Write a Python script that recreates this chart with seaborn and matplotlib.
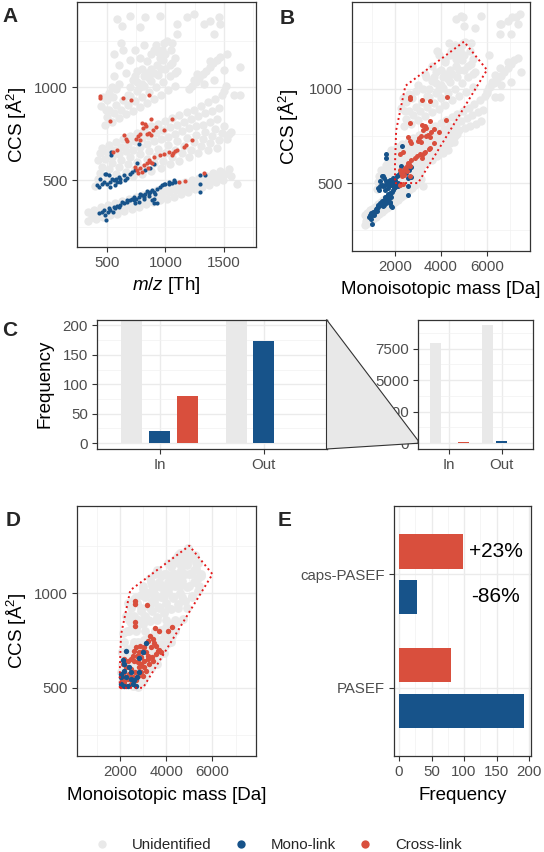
import matplotlib
matplotlib.use('Agg')
import matplotlib.pyplot as plt
from matplotlib.lines import Line2D
from matplotlib.patches import Polygon
from matplotlib.path import Path
from matplotlib.ticker import MultipleLocator
import pandas as pd
import seaborn as sns

PROTON = 1.007276

# ---------------------------------------------------------
# DATA
# ---------------------------------------------------------
# unidentified precursors (m/z, CCS) grouped by charge state
grey_z2 = [(340, 280), (340, 330), (370, 300), (390, 340), (410, 290), (430, 320), (450, 355), (470, 300),
           (490, 335), (510, 365), (530, 310), (550, 345), (570, 375), (590, 320), (610, 355), (630, 390),
           (650, 335), (670, 365), (690, 400), (710, 345), (730, 378), (750, 410), (770, 355), (790, 390),
           (810, 420), (830, 370), (850, 400), (870, 432), (890, 380), (910, 412), (930, 445), (950, 392),
           (970, 425), (990, 455), (1010, 400), (1030, 435), (1050, 468), (1070, 412), (1090, 445), (1110, 478),
           (1130, 425), (1150, 458), (1170, 490), (1190, 438), (1210, 470), (1230, 500), (1250, 450), (1270, 482),
           (1290, 512), (1310, 462), (1330, 495), (1350, 525), (1370, 475), (1390, 505), (1410, 538), (1430, 490),
           (1450, 520), (1470, 552), (1490, 500), (1510, 535), (1540, 560), (1560, 520), (1611, 482)]
grey_z3 = [(400, 470), (420, 505), (440, 540), (460, 572), (480, 490), (500, 525), (520, 560), (540, 595),
           (560, 500), (580, 535), (600, 570), (620, 610), (640, 510), (660, 545), (680, 585), (700, 625),
           (720, 525), (740, 560), (760, 600), (780, 640), (800, 535), (820, 572), (840, 612), (860, 655),
           (880, 550), (900, 590), (920, 630), (940, 670), (960, 565), (980, 605), (1000, 645), (1020, 690),
           (1040, 585), (1060, 625), (1080, 665), (1100, 710), (1120, 605), (1140, 645), (1160, 685), (1180, 725),
           (1200, 625), (1220, 665), (1240, 705), (1260, 745), (1280, 645), (1300, 685), (1320, 720), (1340, 760),
           (1360, 660), (1380, 700), (1400, 740), (1420, 775), (1440, 675), (1460, 715), (1480, 752), (1500, 790),
           (1530, 720), (1560, 760), (1540, 751)]
grey_z4 = [(420, 610), (440, 645), (460, 675), (480, 615), (500, 650), (520, 690), (540, 625), (560, 665),
           (580, 705), (600, 640), (620, 680), (640, 720), (660, 655), (680, 695), (700, 740), (720, 665),
           (740, 710), (760, 755), (780, 680), (800, 725), (820, 770), (840, 695), (860, 740), (880, 790),
           (900, 710), (920, 755), (940, 805), (960, 720), (980, 770), (1000, 820), (1020, 735), (1040, 785),
           (1060, 835), (1080, 750), (1100, 800), (1120, 850), (1140, 765), (1160, 815), (1180, 865), (1200, 780),
           (1220, 830), (1240, 880), (1260, 790), (1280, 845), (1300, 900), (1320, 800), (1340, 860), (1360, 920),
           (1380, 815), (1400, 875), (1420, 940), (1440, 830), (1460, 890), (1480, 960), (1500, 980), (1520, 1010),
           (1526, 1181), (1640, 1109), (1583, 957), (1640, 957)]
grey_z5 = [(480, 800), (500, 840), (520, 880), (540, 815), (560, 860), (580, 905), (600, 835), (620, 880),
           (640, 930), (660, 855), (680, 905), (700, 955), (720, 875), (740, 925), (760, 980), (780, 895),
           (800, 950), (820, 1005), (840, 915), (860, 975), (880, 1035), (900, 940), (920, 1000), (940, 1065),
           (960, 960), (980, 1030), (1000, 1100), (1020, 985), (1040, 1060), (1060, 1130), (1080, 1010), (1100, 1090),
           (930, 1120), (950, 1160), (970, 1200), (990, 1240), (960, 1100), (1000, 1180), (940, 1190), (980, 1150),
           (900, 1080), (880, 1100), (860, 1050), (840, 1080), (820, 1060), (800, 1020), (780, 1000), (760, 1030),
           (1010, 1250), (920, 1230), (1050, 1200), (1080, 1160), (600, 1020), (660, 1080),
           (700, 1000), (720, 1040), (680, 960), (740, 1060), (760, 1090), (800, 1100), (840, 1140), (880, 1180),
           (900, 1200), (1040, 1120), (1080, 1080), (1060, 1240), (450, 900), (470, 950), (500, 930), (520, 970),
           (490, 880), (550, 950), (580, 990),
           (1200, 990), (1230, 1010), (1260, 1030), (1290, 1050), (1320, 1070), (1350, 1090), (1380, 1110),
           (1410, 1130), (1440, 1150), (1470, 1165), (1269, 1073), (1383, 1140), (1326, 1020), (1241, 1038),
           (1497, 1091), (1412, 1038), (1326, 1342), (1383, 1360), (1412, 1289), (1454, 1378), (1469, 1342)]
grey_z6 = [(560, 1060), (600, 1120), (640, 1200), (700, 1150), (540, 1000), (740, 1200), (780, 1160), (820, 1230),
           (827, 1378), (956, 1387), (1098, 1289), (1098, 1342), (1184, 1378), (1241, 1396)]
grey_z7 = [(560, 1180), (620, 1240), (699, 1387), (785, 1324)]
grey_z8 = [(585, 1369), (628, 1333)]

# mono-links (m/z, CCS) by charge state
mono_z2 = [(429, 321), (457, 330), (472, 342), (486, 312), (494, 285), (514, 348), (528, 339), (557, 353),
           (585, 360), (614, 366), (642, 375), (671, 384), (699, 392), (714, 401), (728, 407), (751, 396),
           (771, 410), (799, 419), (828, 428), (856, 432), (885, 446), (899, 437), (913, 428), (899, 401),
           (927, 375), (956, 464), (970, 473), (999, 478), (1027, 482), (1056, 486), (1084, 491), (1070, 500),
           (1027, 491), (870, 437), (813, 410), (728, 392), (671, 392), (600, 353), (551, 330), (506, 330),
           (571, 348), (628, 384), (785, 428), (842, 443), (927, 455), (984, 482), (1292, 527), (1292, 482),
           (1292, 437), (1340, 530), (885, 392), (905, 378), (856, 414), (742, 378), (771, 384), (813, 396)]
mono_z3 = [(534, 652), (534, 634), (756, 593), (771, 694), (486, 536), (514, 527), (443, 509), (429, 464),
           (415, 473), (457, 482), (472, 491), (500, 482), (528, 491), (557, 500), (580, 509), (600, 518),
           (614, 504), (642, 527), (671, 514), (699, 536), (714, 545), (742, 554), (528, 464), (571, 473),
           (543, 509), (585, 491), (899, 586), (870, 568), (828, 554), (494, 536), (614, 491), (657, 500)]

# cross-links (m/z, CCS) by charge state
cross_z2 = [(1113, 491), (1170, 496), (1326, 539)]
cross_z3 = [(742, 572), (756, 554), (785, 563), (813, 581), (842, 593), (856, 608), (885, 590), (848, 563),
            (799, 545), (762, 539), (865, 599), (899, 625), (956, 634), (990, 643), (1027, 652), (1064, 647),
            (1084, 658), (1056, 634), (1098, 665), (1155, 679), (1178, 688), (1227, 715)]
cross_z4 = [(799, 808), (822, 801), (808, 783), (836, 790), (922, 787), (893, 772), (856, 754), (876, 744),
            (842, 747), (785, 751), (765, 737), (751, 724), (779, 719), (984, 769), (642, 742), (665, 724),
            (671, 711), (585, 665), (551, 652), (876, 828), (1056, 832)]
cross_z5 = [(637, 941), (708, 934), (856, 959), (528, 821)]
cross_z6 = [(443, 955), (443, 945)]

# caps-PASEF isolation polygon (mass, CCS)
poly_mass = [2000, 3000, 6000, 5000, 2450, 2050, 2000]
poly_ccs = [500, 500, 1100, 1250, 1015, 780, 600]

# caps-PASEF run (mass, CCS)
caps_grey = [(2300, 560), (2700, 560), (3100, 560), (2150, 620), (2550, 620), (2950, 620), (3400, 620),
             (2300, 680), (2700, 680), (3100, 680), (3550, 680), (2200, 740), (2600, 740), (3000, 740),
             (3400, 740), (3850, 740), (2300, 800), (2700, 800), (3100, 800), (3500, 800), (3900, 800),
             (4250, 800), (2400, 860), (2800, 860), (3200, 860), (3600, 860), (4000, 860), (4400, 860),
             (2500, 920), (2900, 920), (3300, 920), (3700, 920), (4100, 920), (4500, 920), (4900, 920),
             (2700, 980), (3100, 980), (3500, 980), (3900, 980), (4300, 980), (4700, 980), (5100, 980),
             (3000, 1040), (3400, 1040), (3800, 1040), (4200, 1040), (4600, 1040), (5000, 1040), (5400, 1040),
             (3500, 1100), (3900, 1100), (4300, 1100), (4700, 1100), (5100, 1100), (5500, 1100),
             (4100, 1160), (4500, 1160), (4900, 1160), (5300, 1160), (4600, 1210), (5000, 1210),
             (2100, 530), (2500, 530), (2900, 530), (2100, 590), (2500, 590), (2900, 590), (2080, 690),
             (2450, 700), (2150, 790), (2250, 880), (3300, 1000), (2600, 960)]
caps_cross = [(2660, 958), (2660, 942), (3160, 938), (2660, 846), (2660, 828), (3520, 816), (3700, 798),
              (4240, 823), (4090, 802), (3319, 775), (3420, 758), (3205, 749), (3491, 735), (3348, 714),
              (3635, 696), (3563, 679), (3706, 700), (3778, 688), (3133, 688), (2989, 696), (2846, 688),
              (2703, 714), (2602, 696), (2746, 670), (2918, 661), (3061, 644), (3205, 653), (3377, 665),
              (3276, 626), (3061, 609), (2918, 626), (2774, 635), (2631, 644), (2488, 653), (2344, 644),
              (2201, 653), (2129, 626), (2272, 609), (2488, 600), (2660, 582), (2416, 574), (2201, 582),
              (2129, 565), (2344, 547), (2559, 556), (2774, 565), (2918, 582), (2703, 539), (2488, 521),
              (2272, 512), (2100, 539), (2057, 556), (2057, 512), (2201, 530), (2846, 609), (2989, 565),
              (3133, 591), (3420, 644), (3233, 670), (3563, 723), (3061, 714), (2889, 723), (2559, 670)]
caps_mono = [(2272, 696), (3133, 735), (2846, 658), (2129, 647), (2029, 556), (2057, 521), (2272, 556),
             (2201, 591), (2488, 582), (2631, 539), (2746, 556), (2846, 582), (2344, 512), (2559, 521),
             (2057, 574), (2703, 512), (2488, 547), (2201, 626), (2416, 609), (2201, 512), (2980, 690)]

# panel C: precursors inside / outside the polygon
regioes = ['In', 'Out']
tipos = ['Unidentified', 'Mono-link', 'Cross-link']
freq_in = [7970, 20, 80]
freq_out = [9350, 173, 1]

# panel E: identifications per method
metodos = ['caps-PASEF', 'PASEF']
freq_cross = [98, 80]
freq_mono = [27, 193]
variacao = ['+23%', '-86%']

GREY = '#E9E9E9'
BLUE = '#17538A'
RED = '#D94F3D'
ZOOM_RED = '#E41A1C'
CCS_LABEL = 'CCS [Å$^2$]'


def to_frame(groups):
    rows = []
    for z, pts in groups:
        for mz, ccs in pts:
            rows.append({'mz': mz, 'ccs': ccs, 'mass': (mz - PROTON) * z})
    return pd.DataFrame(rows)


def box(l, t, r, b):
    return [l / 544, 1 - b / 852, (r - l) / 544, (b - t) / 852]


def estilo(ax):
    ax.set_facecolor('white')
    for s in ax.spines.values():
        s.set_visible(True)
        s.set_color('#333333')
        s.set_linewidth(0.9)
    ax.set_axisbelow(True)
    ax.tick_params(which='major', length=3.5, width=0.8, color='#333333', labelsize=10.8,
                   labelcolor='#4D4D4D', pad=3, bottom=True, left=True)
    ax.tick_params(which='minor', length=0, bottom=False, left=False)


def grade(ax, axis='both', minor=True):
    ax.grid(True, which='major', axis=axis, color='#EBEBEB', lw=1.0)
    if minor:
        ax.grid(True, which='minor', axis=axis, color='#F1F1F1', lw=0.5)


def rotulo_x(ax, texto, y_px):
    ax.set_xlabel(texto, fontsize=13.5, va='center', color='black')
    pos = ax.get_position()
    ax.xaxis.set_label_coords(0.5, ((1 - y_px / 852) - pos.y0) / pos.height)


def rotulo_y(ax, texto, x_px):
    ax.set_ylabel(texto, fontsize=13.5, va='center', color='black')
    pos = ax.get_position()
    ax.yaxis.set_label_coords((x_px / 544 - pos.x0) / pos.width, 0.5)


def scatter_axes(ax, xlim, xmaj, xmin):
    ax.set_xlim(*xlim)
    ax.set_ylim(140, 1460)
    ax.xaxis.set_major_locator(MultipleLocator(xmaj))
    ax.xaxis.set_minor_locator(MultipleLocator(xmin))
    ax.yaxis.set_major_locator(MultipleLocator(500))
    ax.yaxis.set_minor_locator(MultipleLocator(250))
    grade(ax)
    estilo(ax)


def main():
    sns.set_theme(style='white')
    plt.rcParams['font.family'] = ['Liberation Sans', 'DejaVu Sans']
    plt.rcParams['mathtext.fontset'] = 'custom'
    plt.rcParams['mathtext.rm'] = 'Liberation Sans'
    plt.rcParams['mathtext.it'] = 'Liberation Sans:italic'

    grey_df = to_frame([(2, grey_z2), (3, grey_z3), (4, grey_z4), (5, grey_z5),
                        (6, grey_z6), (7, grey_z7), (8, grey_z8)])
    mono_df = to_frame([(2, mono_z2), (3, mono_z3)])
    cross_df = to_frame([(2, cross_z2), (3, cross_z3), (4, cross_z4), (5, cross_z5), (6, cross_z6)])

    poly = Path(list(zip(poly_mass, poly_ccs)))
    dentro = poly.contains_points(grey_df[['mass', 'ccs']].values)
    grey_caps = pd.concat([grey_df.loc[dentro, ['mass', 'ccs']],
                           pd.DataFrame(caps_grey, columns=['mass', 'ccs'])])
    caps_cross_df = pd.DataFrame(caps_cross, columns=['mass', 'ccs'])
    caps_mono_df = pd.DataFrame(caps_mono, columns=['mass', 'ccs'])

    fig = plt.figure(figsize=(5.44, 8.52), dpi=100)

    # ---------------------------------------------------------
    # A: m/z vs CCS
    # ---------------------------------------------------------
    ax_a = fig.add_axes(box(77, 2, 256, 247))
    sns.scatterplot(data=grey_df, x='mz', y='ccs', color=GREY, s=36, linewidth=0, ax=ax_a, legend=False)
    sns.scatterplot(data=mono_df, x='mz', y='ccs', color=BLUE, s=9, linewidth=0, ax=ax_a, legend=False)
    sns.scatterplot(data=cross_df, x='mz', y='ccs', color=RED, s=9, linewidth=0, ax=ax_a, legend=False)
    scatter_axes(ax_a, (244, 1774), 500, 250)
    rotulo_x(ax_a, r'$m/z$ [Th]', 285)
    rotulo_y(ax_a, CCS_LABEL, 17)

    # ---------------------------------------------------------
    # B: mass vs CCS with polygon
    # ---------------------------------------------------------
    ax_b = fig.add_axes(box(352, 2, 530, 251))
    sns.scatterplot(data=grey_df, x='mass', y='ccs', color=GREY, s=36, linewidth=0, ax=ax_b, legend=False)
    sns.scatterplot(data=mono_df, x='mass', y='ccs', color=BLUE, s=13, linewidth=0, ax=ax_b, legend=False)
    sns.scatterplot(data=cross_df, x='mass', y='ccs', color=RED, s=13, linewidth=0, ax=ax_b, legend=False)
    ax_b.plot(poly_mass + poly_mass[:1], poly_ccs + poly_ccs[:1], color=ZOOM_RED, lw=1.4,
              linestyle=(0, (1, 1.6)))
    scatter_axes(ax_b, (130, 7870), 2000, 1000)
    rotulo_x(ax_b, 'Monoisotopic mass [Da]', 290)
    rotulo_y(ax_b, CCS_LABEL, 289)

    # ---------------------------------------------------------
    # C: bar chart in/out + inset
    # ---------------------------------------------------------
    df_c = pd.DataFrame({'regiao': [r for r in regioes for _ in tipos],
                         'tipo': tipos * len(regioes),
                         'freq': freq_in + freq_out})
    ax_c = fig.add_axes(box(97, 319.5, 326.5, 449))
    ax_in = fig.add_axes(box(418, 319.5, 533, 449))
    for ax in (ax_c, ax_in):
        sns.barplot(data=df_c, x='regiao', y='freq', hue='tipo', order=regioes, hue_order=tipos,
                    palette=[GREY, BLUE, RED], saturation=1, width=0.8, gap=0.25, errorbar=None,
                    linewidth=0, ax=ax, legend=False)
        ax.set_xlim(-0.6, 1.6)
        ax.set_xlabel('')
        ax.set_ylabel('')
        grade(ax, axis='x', minor=False)
        grade(ax, axis='y')
        estilo(ax)
    ax_c.set_ylim(-10, 210)
    ax_c.yaxis.set_major_locator(MultipleLocator(50))
    ax_c.yaxis.set_minor_locator(MultipleLocator(25))
    ax_in.set_ylim(-467, 9817)
    ax_in.yaxis.set_major_locator(MultipleLocator(2500))
    ax_in.yaxis.set_minor_locator(MultipleLocator(1250))
    rotulo_y(ax_c, 'Frequency', 45)

    # zoom wedge linking the main panel to the inset
    p_top = ax_c.transAxes.transform((1, 1))
    p_bot = ax_c.transAxes.transform((1, 0))
    q_top = ax_in.transData.transform((-0.6, 210))
    q_bot = ax_in.transData.transform((-0.6, -10))
    cantos = fig.transFigure.inverted().transform([p_top, q_top, q_bot, p_bot])
    fig.add_artist(Polygon(cantos, closed=True, transform=fig.transFigure, facecolor='#E8E8E8',
                           edgecolor='#333333', lw=0.8, zorder=5))

    # ---------------------------------------------------------
    # D: caps-PASEF
    # ---------------------------------------------------------
    ax_d = fig.add_axes(box(77, 506, 256, 756))
    sns.scatterplot(data=grey_caps, x='mass', y='ccs', color=GREY, s=40, linewidth=0, ax=ax_d, legend=False)
    sns.scatterplot(data=caps_cross_df, x='mass', y='ccs', color=RED, s=15, linewidth=0, ax=ax_d, legend=False)
    sns.scatterplot(data=caps_mono_df, x='mass', y='ccs', color=BLUE, s=15, linewidth=0, ax=ax_d, legend=False)
    ax_d.plot(poly_mass + poly_mass[:1], poly_ccs + poly_ccs[:1], color=ZOOM_RED, lw=1.4,
              linestyle=(0, (1, 1.6)))
    scatter_axes(ax_d, (150, 7880), 2000, 1000)
    rotulo_x(ax_d, 'Monoisotopic mass [Da]', 795)
    rotulo_y(ax_d, CCS_LABEL, 17)

    # ---------------------------------------------------------
    # E: identifications per method
    # ---------------------------------------------------------
    df_e = pd.DataFrame({'metodo': metodos * 2,
                         'tipo': ['Cross-link'] * 2 + ['Mono-link'] * 2,
                         'freq': freq_cross + freq_mono})
    ax_e = fig.add_axes(box(394, 506, 531, 756))
    sns.barplot(data=df_e, y='metodo', x='freq', hue='tipo', order=metodos,
                hue_order=['Cross-link', 'Mono-link'], palette=[RED, BLUE], saturation=1,
                width=0.8, gap=0.25, errorbar=None, linewidth=0, orient='h', ax=ax_e, legend=False)
    ax_e.set_xlim(-7.7, 203)
    ax_e.set_ylim(1.6, -0.6)
    ax_e.xaxis.set_major_locator(MultipleLocator(50))
    ax_e.xaxis.set_minor_locator(MultipleLocator(25))
    grade(ax_e, axis='x')
    grade(ax_e, axis='y', minor=False)
    estilo(ax_e)
    ax_e.set_ylabel('')
    rotulo_x(ax_e, 'Frequency', 795)
    ax_e.text(149, -0.2, variacao[0], fontsize=15, ha='center', va='center', color='black')
    ax_e.text(148, 0.2, variacao[1], fontsize=15, ha='center', va='center', color='black')

    # ---------------------------------------------------------
    # panel letters and legend
    # ---------------------------------------------------------
    for letra, x, y in [('A', 10, 17), ('B', 287, 18), ('C', 10, 331), ('D', 13, 520), ('E', 285, 521)]:
        fig.text(x / 544, 1 - y / 852, letra, fontsize=15, fontweight='bold', ha='center', va='center')

    handles = [Line2D([0], [0], marker='o', linestyle='none', markerfacecolor=c, markeredgewidth=0,
                      color=c, markersize=6) for c in (GREY, BLUE, RED)]
    fig.legend(handles, tipos, loc='center', bbox_to_anchor=(278 / 544, 1 - 845 / 852), ncol=3,
               frameon=False, fontsize=10.8, handlelength=1.0, handletextpad=1.5, columnspacing=1.45)

    fig.savefig('out.png', dpi=100)


if __name__ == "__main__":
    main()
